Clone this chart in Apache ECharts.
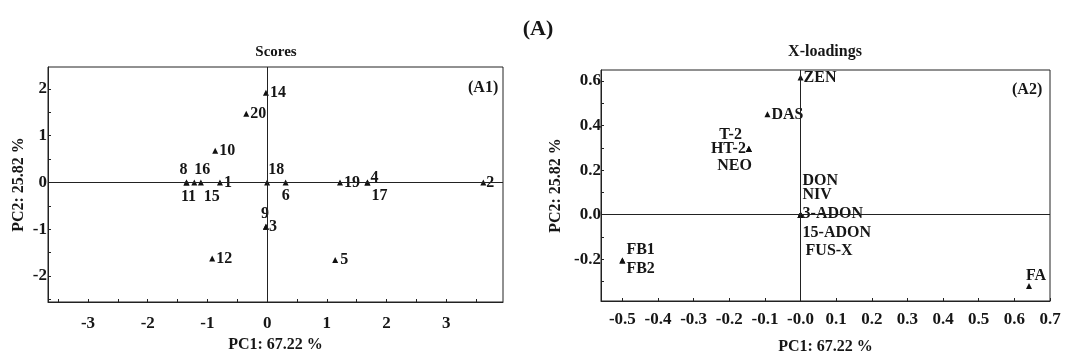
<!DOCTYPE html>
<html><head><meta charset="utf-8">
<script src="https://cdn.jsdelivr.net/npm/echarts@6/dist/echarts.min.js"></script>
<style>html,body{margin:0;padding:0;background:#fff}#c{width:1067px;height:356px}</style>
</head><body><div id="c"></div>
<script>
// ---- Scores (A1) ----
var scoreIds = ['14','20','10','8','11','16','15','1','18','6','19','4','17','2','9','3','12','5'];
var scorePC1 = [-0.02,-0.35,-0.87,-1.35,-1.35,-1.22,-1.11,-0.79,0.0,0.31,1.22,1.68,1.68,3.62,-0.02,-0.02,-0.92,1.14];
var scorePC2 = [1.92,1.47,0.68,0.0,0.0,0.0,0.0,0.0,0.0,0.0,0.0,0.0,0.0,0.0,-0.95,-0.95,-1.63,-1.66];
// ---- X-loadings (A2) ----
var loadNames = ['ZEN','DAS','T-2','HT-2','NEO','DON','NIV','3-ADON','15-ADON','FUS-X','FB1','FB2','FA'];
var loadPC1 = [0.0,-0.093,-0.145,-0.145,-0.145,0.0,0.0,0.0,0.0,0.0,-0.50,-0.50,0.641];
var loadPC2 = [0.615,0.45,0.295,0.295,0.295,0.0,0.0,0.0,0.0,0.0,-0.205,-0.205,-0.32];
// axis texts
var xName = 'PC1: 67.22 %', yName = 'PC2: 25.82 %';

// label placement (style only)
var scoreLabel = {
  '14':['right',[-1,0]], '20':['right',[-1,0]], '10':['right',[-1,0]],
  '8':['top',[-3,0]], '11':['bottom',[2,1]], '16':['top',[8,0]], '15':['bottom',[11,1]],
  '1':['right',[-1,0]], '18':['top',[9,0]], '6':['bottom',[0,0]], '19':['right',[-1,0]],
  '4':['right',[-2,-5]], '17':['bottom',[12,0]], '2':['right',[-2,0]],
  '9':['top',[-1,0]], '3':['right',[-2,0]], '12':['right',[-1,0]], '5':['right',[0,0]]
};
var loadLabel = {
  'ZEN':['right',[-2,0]], 'DAS':['right',[-1,0]],
  'T-2':['left',[-2,-14]], 'HT-2':['left',[2,0]], 'NEO':['left',[8,17]],
  'DON':['right',[-3,-34]], 'NIV':['right',[-3,-20]], '3-ADON':['right',[-3,-1]],
  '15-ADON':['right',[-3,18]], 'FUS-X':['right',[0,36]],
  'FB1':['right',[-1,-11]], 'FB2':['right',[-1,8]], 'FA':['top',[7,3]]
};

var FONT = 'Liberation Serif';
var TXT = '#161616';
function mk(names, xs, ys, lab){
  return names.map(function(n,i){
    var l = lab[n];
    return {name:n, value:[xs[i], ys[i]], label:{show:true, position:l[0], offset:l[1], formatter:n,
      fontFamily:FONT, fontWeight:'bold', fontSize:16, color:TXT, distance:2}};
  });
}
function zeroLines(){
  return {silent:true, symbol:'none', label:{show:false},
    lineStyle:{color:'#222', width:1, type:'solid', opacity:1},
    data:[{xAxis:0},{yAxis:0}], animation:false};
}
function fmtInt(v){ return Math.abs(v-Math.round(v))<1e-6 ? String(Math.round(v)) : ''; }
var axisCommon = {
  axisLine:{show:true, onZero:false, lineStyle:{color:'#222'}},
  axisTick:{show:true, inside:true, length:3, lineStyle:{color:'#222'}},
  splitLine:{show:false},
  nameTextStyle:{fontFamily:FONT, fontWeight:'bold', fontSize:16, color:TXT}
};
function ax(o){ var r = JSON.parse(JSON.stringify(axisCommon)); for (var k in o) r[k]=o[k]; return r; }
var lblStyle = {fontFamily:FONT, fontWeight:'bold', fontSize:17, color:TXT};
function lab(extra){ var r={}; for (var k in lblStyle) r[k]=lblStyle[k]; for (var k2 in extra) r[k2]=extra[k2]; return r; }
function ttl(text, left, top, size, align){
  return {text:text, left:left, top:top, padding:0, textAlign:align||'left',
    textStyle:{fontFamily:FONT, fontWeight:'bold', fontSize:size, color:TXT}};
}

var option = {
  animation:false,
  backgroundColor:'#fff',
  title:[
    ttl('(A)', 538, 18, 22, 'center'),
    ttl('Scores', 276, 45, 15, 'center'),
    ttl('X-loadings', 825, 44, 16, 'center'),
    ttl('(A1)', 468, 80, 16),
    ttl('(A2)', 1012, 82, 16)
  ],
  grid:[
    {left:48, right:564, top:67, bottom:54, show:true, borderColor:'#222', borderWidth:1, backgroundColor:'transparent', containLabel:false, outerBoundsMode:'none'},
    {left:601, right:17, top:70, bottom:55, show:true, borderColor:'#222', borderWidth:1, backgroundColor:'transparent', containLabel:false, outerBoundsMode:'none'}
  ],
  xAxis:[
    ax({type:'value', gridIndex:0, min:-3.67, max:3.95, splitNumber:16, name:xName, nameLocation:'middle', nameGap:34,
      axisLabel:lab({margin:13, formatter:fmtInt, showMinLabel:false, showMaxLabel:false})}),
    ax({type:'value', gridIndex:1, min:-0.56, max:0.7, splitNumber:12, name:xName, nameLocation:'middle', nameGap:38,
      axisLabel:lab({margin:10, showMinLabel:false, formatter:function(v){ if (Math.abs(v)<1e-9) return '-0.0'; return v.toFixed(1);} })})
  ],
  yAxis:[
    ax({type:'value', gridIndex:0, min:-2.56, max:2.47, splitNumber:10, name:yName, nameLocation:'middle', nameGap:21,
      axisLabel:lab({margin:1, formatter:fmtInt, showMinLabel:false, showMaxLabel:false})}),
    ax({type:'value', gridIndex:1, min:-0.387, max:0.649, splitNumber:10, name:yName, nameLocation:'middle', nameGap:37,
      axisLabel:lab({margin:0, showMinLabel:false, showMaxLabel:false, formatter:function(v){ var k=Math.round(v*10); return (Math.abs(v*10-k)<1e-6 && k%2===0) ? v.toFixed(1) : ''; }})})
  ],
  series:[
    {type:'scatter', xAxisIndex:0, yAxisIndex:0, symbol:'triangle', symbolSize:6,
      itemStyle:{color:'#111', opacity:1}, data:mk(scoreIds, scorePC1, scorePC2, scoreLabel), markLine:zeroLines(), z:3},
    {type:'scatter', xAxisIndex:1, yAxisIndex:1, symbol:'triangle', symbolSize:6,
      itemStyle:{color:'#111', opacity:1}, data:mk(loadNames, loadPC1, loadPC2, loadLabel), markLine:zeroLines(), z:3}
  ]
};
var chart = echarts.init(document.getElementById('c'), null, {renderer:'canvas'});
chart.setOption(option);
</script></body></html>
